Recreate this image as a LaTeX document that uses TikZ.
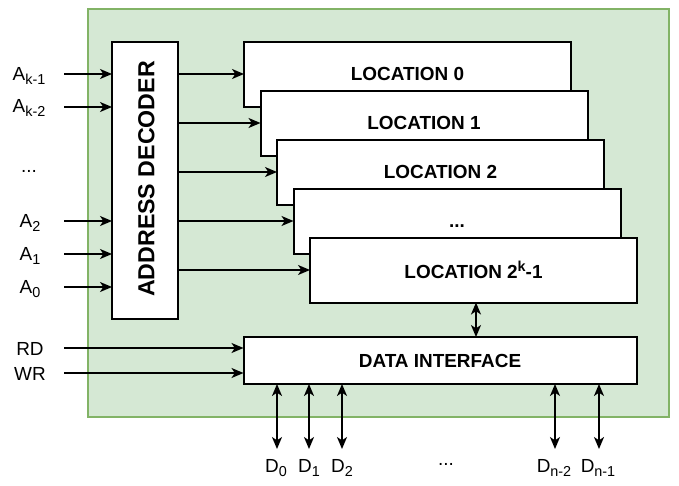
\documentclass[tikz,border=0pt]{standalone}
\usepackage{fontspec}
\setmainfont{Liberation Sans}
\usetikzlibrary{arrows.meta}
\definecolor{gfill}{HTML}{D5E8D4}
\definecolor{gdraw}{HTML}{82B366}
\newcommand\lsub[1]{\raisebox{-3pt}{\fontsize{10.8pt}{12pt}\selectfont #1}}
\newcommand\lsup[1]{\raisebox{5pt}{\fontsize{10.8pt}{12pt}\selectfont #1}}
\begin{document}
\begin{tikzpicture}[x=0.75pt,y=-0.75pt,
  box/.style={draw=black, fill=white, line width=1.5pt, inner sep=0pt, outer sep=0pt},
  locbox/.style={box, minimum width=245.25pt, minimum height=48.75pt,
    font=\fontsize{14.2pt}{16pt}\selectfont\bfseries},
  lbl/.style={inner sep=0pt, font=\fontsize{14.2pt}{16pt}\selectfont},
  tip/.tip={Stealth[length=9pt, width=7.5pt, inset=2.5pt]},
  arr/.style={line width=1.4pt, -tip},
  darr/.style={line width=1.4pt, tip-tip}
]
\useasboundingbox (0,0) rectangle (679,486);
% background
\node[draw=gdraw, fill=gfill, line width=1.2pt, minimum width=435.75pt, minimum height=306pt, inner sep=0pt] (bg) at (378.5,213) {};
% decoder
\node[box, minimum width=49.5pt, minimum height=207.75pt] (dec) at (145,180.5) {};
\node[rotate=90, inner sep=0pt, font=\fontsize{17.4pt}{20pt}\selectfont\bfseries] (dectxt) at (146.5,179) {ADDRESS DECODER};
% locations
\node[locbox] (l0) at (407.5,74) {LOCATION 0};
\node[locbox] (l1) at (424,123) {LOCATION 1};
\node[locbox] (l2) at (440.5,172) {LOCATION 2};
\node[locbox] (l3) at (457,221) {\vphantom{L}...};
\node[locbox] (l4) at (473.5,270) {LOCATION 2\lsup{k}-1};
% data interface
\node[box, minimum width=294.75pt, minimum height=35.25pt, font=\fontsize{14.2pt}{16pt}\selectfont\bfseries] (di) at (440,360.5) {DATA INTERFACE};
% decoder to locations
\foreach \n in {l0,l1,l2,l3,l4}{
  \draw[arr] (\n.west -| dec.east) -- (\n.west);
}
% address inputs
\coordinate (ak1) at (64,74);
\coordinate (ak2) at (64,107);
\coordinate (aa2) at (64,221);
\coordinate (aa1) at (64,254);
\coordinate (aa0) at (64,287);
\foreach \c in {ak1,ak2,aa2,aa1,aa0}{
  \draw[arr] (\c) -- (\c -| dec.west);
}
\node[lbl, anchor=base] (tak1) at (29,80) {A\lsub{k-1}};
\node[lbl, anchor=base] (tak2) at (29,112) {A\lsub{k-2}};
\node[lbl, anchor=base] (tadots) at (29,172) {...};
\node[lbl, anchor=base] (ta2) at (30,227) {A\lsub{2}};
\node[lbl, anchor=base] (ta1) at (30,260) {A\lsub{1}};
\node[lbl, anchor=base] (ta0) at (30,293) {A\lsub{0}};
% RD / WR
\coordinate (rd) at (64,348);
\coordinate (wr) at (64,373);
\draw[arr] (rd) -- (rd -| di.west);
\draw[arr] (wr) -- (wr -| di.west);
\node[lbl, anchor=base] (trd) at (30,355) {RD};
\node[lbl, anchor=base] (twr) at (30,380) {WR};
% location <-> data interface
\coordinate (bx) at (476,320);
\draw[darr] (bx |- l4.south) -- (bx |- di.north);
% data lines
\coordinate (d0) at (277,449);
\coordinate (d1) at (309,449);
\coordinate (d2) at (342,449);
\coordinate (dn2) at (555,449);
\coordinate (dn1) at (599,449);
\foreach \c in {d0,d1,d2,dn2,dn1}{
  \draw[darr] (\c |- di.south) -- (\c);
}
\node[lbl, anchor=base] (td0) at (276,472) {D\lsub{0}};
\node[lbl, anchor=base] (td1) at (309,472) {D\lsub{1}};
\node[lbl, anchor=base] (td2) at (342,472) {D\lsub{2}};
\node[lbl, anchor=base] (tddots) at (446,465) {...};
\node[lbl, anchor=base] (tdn2) at (554,472) {D\lsub{n-2}};
\node[lbl, anchor=base] (tdn1) at (598,472) {D\lsub{n-1}};
\end{tikzpicture}
\end{document}
